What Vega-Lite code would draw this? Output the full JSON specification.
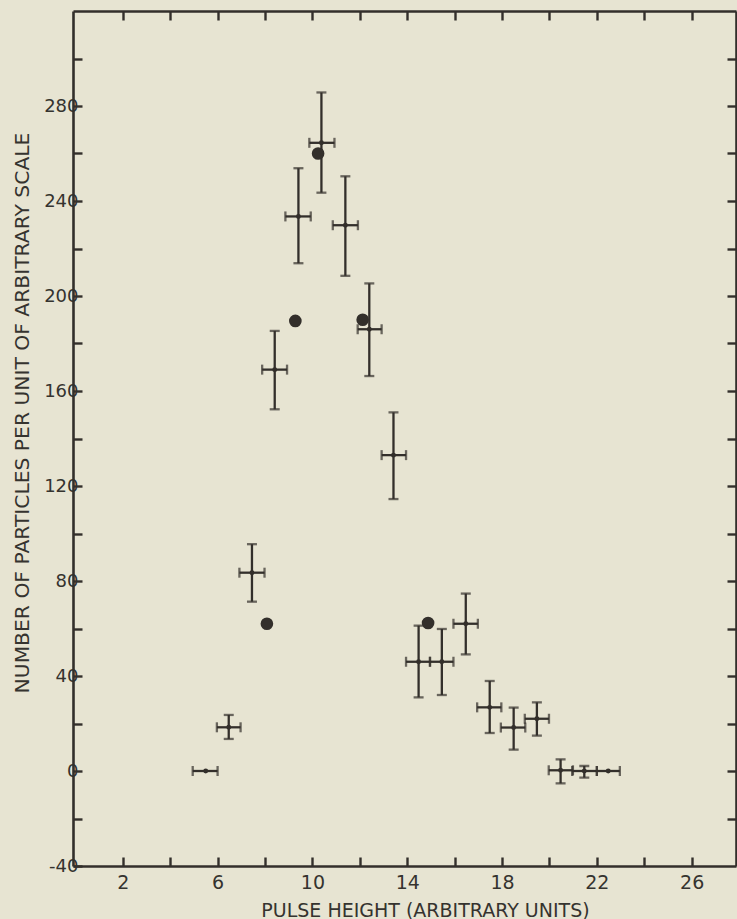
{
  "$schema": "https://vega.github.io/schema/vega-lite/v6.json",
  "autosize": {"type": "none"},
  "padding": {"left": 73, "top": 11, "right": 1, "bottom": 53},
  "width": 663,
  "height": 855,
  "background": "#e7e4d2",
  "datasets": {
    "pts": [
      {"x": 5.5, "xlo": 4.95, "xhi": 6.0, "y": 0, "ylo": null, "yhi": null},
      {"x": 6.47, "xlo": 5.97, "xhi": 6.97, "y": 18.4, "ylo": 13.5, "yhi": 23.6},
      {"x": 7.45, "xlo": 6.92, "xhi": 7.98, "y": 83.5, "ylo": 71.3, "yhi": 95.5},
      {"x": 8.41, "xlo": 7.88, "xhi": 8.93, "y": 169, "ylo": 152.3, "yhi": 185.3},
      {"x": 9.41, "xlo": 8.86, "xhi": 9.93, "y": 233.5, "ylo": 213.8, "yhi": 253.8},
      {"x": 10.38, "xlo": 9.87, "xhi": 10.93, "y": 264.5, "ylo": 243.5, "yhi": 285.7},
      {"x": 11.39, "xlo": 10.86, "xhi": 11.92, "y": 229.8, "ylo": 208.5, "yhi": 250.4},
      {"x": 12.4, "xlo": 11.91, "xhi": 12.92, "y": 186, "ylo": 166.3, "yhi": 205.3},
      {"x": 13.42, "xlo": 12.92, "xhi": 13.95, "y": 133, "ylo": 114.5, "yhi": 151},
      {"x": 14.48, "xlo": 13.95, "xhi": 14.96, "y": 46, "ylo": 31, "yhi": 61.2},
      {"x": 15.46, "xlo": 14.96, "xhi": 15.95, "y": 46, "ylo": 32, "yhi": 59.8},
      {"x": 16.47, "xlo": 15.95, "xhi": 16.98, "y": 62, "ylo": 49.1, "yhi": 74.7},
      {"x": 17.48, "xlo": 16.95, "xhi": 17.97, "y": 26.8, "ylo": 16, "yhi": 37.9},
      {"x": 18.49, "xlo": 17.95, "xhi": 18.98, "y": 18.3, "ylo": 9, "yhi": 26.7},
      {"x": 19.47, "xlo": 18.96, "xhi": 19.98, "y": 22, "ylo": 14.9, "yhi": 28.9},
      {"x": 20.47, "xlo": 19.97, "xhi": 20.99, "y": 0.3, "ylo": -5.2, "yhi": 4.9},
      {"x": 21.47, "xlo": 20.96, "xhi": 22.0, "y": 0, "ylo": -2.8, "yhi": 2.1},
      {"x": 22.48, "xlo": 22.0, "xhi": 22.97, "y": 0, "ylo": null, "yhi": null}
    ],
    "dots": [
      {"x": 8.08, "y": 62},
      {"x": 9.28, "y": 189.5},
      {"x": 10.24, "y": 260},
      {"x": 12.12, "y": 190},
      {"x": 14.88, "y": 62.3}
    ]
  },
  "layer": [
    {
      "data": {"name": "pts"},
      "transform": [{"filter": "isValid(datum.ylo)"}],
      "mark": {"type": "rule", "color": "#332f2b", "strokeWidth": 2.3},
      "encoding": {
        "x": {
          "field": "x", "type": "quantitative",
          "scale": {"domain": [-0.1, 27.87], "nice": false, "zero": false},
          "axis": {
            "orient": "bottom",
            "values": [2, 4, 6, 8, 10, 12, 14, 16, 18, 20, 22, 24, 26],
            "labelExpr": "datum.value % 4 == 2 ? '' + datum.value : ''",
            "title": "PULSE HEIGHT (ARBITRARY UNITS)",
            "titleX": 352, "titleY": 50, "titleAlign": "center", "titleBaseline": "alphabetic",
            "titleFontSize": 19,
            "labelFontSize": 19, "labelBaseline": "alphabetic", "labelPadding": 31,
            "tickSize": -9
          }
        },
        "y": {
          "field": "ylo", "type": "quantitative",
          "scale": {"domain": [-40, 320], "nice": false, "zero": false},
          "axis": {
            "orient": "left",
            "values": [-40, -20, 0, 20, 40, 60, 80, 100, 120, 140, 160, 180, 200, 220, 240, 260, 280, 300],
            "labelExpr": "datum.value % 40 == 0 ? '' + datum.value : ''",
            "title": "NUMBER OF PARTICLES PER UNIT OF ARBITRARY SCALE",
            "titleX": -45, "titleY": 401.5, "titleAlign": "center", "titleBaseline": "alphabetic", "titleAngle": -90,
            "titleFontSize": 20.3,
            "labelFontSize": 18, "labelPadding": 4,
            "tickSize": -9
          }
        },
        "y2": {"field": "yhi"}
      }
    },
    {
      "data": {"name": "pts"},
      "mark": {"type": "rule", "color": "#332f2b", "strokeWidth": 2.3},
      "encoding": {
        "x": {
          "field": "xlo", "type": "quantitative",
          "axis": {
            "orient": "top",
            "values": [2, 4, 6, 8, 10, 12, 14, 16, 18, 20, 22, 24, 26],
            "labels": false, "title": null, "tickSize": -9
          }
        },
        "x2": {"field": "xhi"},
        "y": {
          "field": "y", "type": "quantitative",
          "axis": {
            "orient": "right",
            "values": [-20, 0, 20, 40, 60, 80, 100, 120, 140, 160, 180, 200, 220, 240, 260, 280, 300],
            "labels": false, "title": null, "tickSize": -9
          }
        }
      }
    },
    {
      "data": {"name": "pts"},
      "transform": [{"filter": "isValid(datum.ylo)"}],
      "mark": {"type": "tick", "orient": "horizontal", "color": "#332f2b", "size": 10, "thickness": 2.3},
      "encoding": {
        "x": {"field": "x", "type": "quantitative", "axis": null},
        "y": {"field": "ylo", "type": "quantitative", "axis": null}
      }
    },
    {
      "data": {"name": "pts"},
      "transform": [{"filter": "isValid(datum.yhi)"}],
      "mark": {"type": "tick", "orient": "horizontal", "color": "#332f2b", "size": 10, "thickness": 2.3},
      "encoding": {
        "x": {"field": "x", "type": "quantitative", "axis": null},
        "y": {"field": "yhi", "type": "quantitative", "axis": null}
      }
    },
    {
      "data": {"name": "pts"},
      "mark": {"type": "tick", "orient": "vertical", "color": "#332f2b", "size": 10, "thickness": 2.3},
      "encoding": {
        "x": {"field": "xlo", "type": "quantitative", "axis": null},
        "y": {"field": "y", "type": "quantitative", "axis": null}
      }
    },
    {
      "data": {"name": "pts"},
      "mark": {"type": "tick", "orient": "vertical", "color": "#332f2b", "size": 10, "thickness": 2.3},
      "encoding": {
        "x": {"field": "xhi", "type": "quantitative", "axis": null},
        "y": {"field": "y", "type": "quantitative", "axis": null}
      }
    },
    {
      "data": {"name": "pts"},
      "mark": {"type": "circle", "color": "#332f2b", "opacity": 1, "size": 24},
      "encoding": {
        "x": {"field": "x", "type": "quantitative", "axis": null},
        "y": {"field": "y", "type": "quantitative", "axis": null}
      }
    },
    {
      "data": {"name": "dots"},
      "mark": {"type": "circle", "color": "#332f2b", "opacity": 1, "size": 160},
      "encoding": {
        "x": {"field": "x", "type": "quantitative", "axis": null},
        "y": {"field": "y", "type": "quantitative", "axis": null}
      }
    }
  ],
  "resolve": {"axis": {"x": "independent", "y": "independent"}},
  "config": {
    "view": {"stroke": null},
    "axis": {
      "grid": false,
      "domainColor": "#332f2b", "domainWidth": 2.6,
      "tickColor": "#332f2b", "tickWidth": 2.4,
      "labelColor": "#35332f", "titleColor": "#35332f",
      "labelFont": "DejaVu Sans", "titleFont": "DejaVu Sans",
      "titleFontWeight": "normal"
    }
  }
}
